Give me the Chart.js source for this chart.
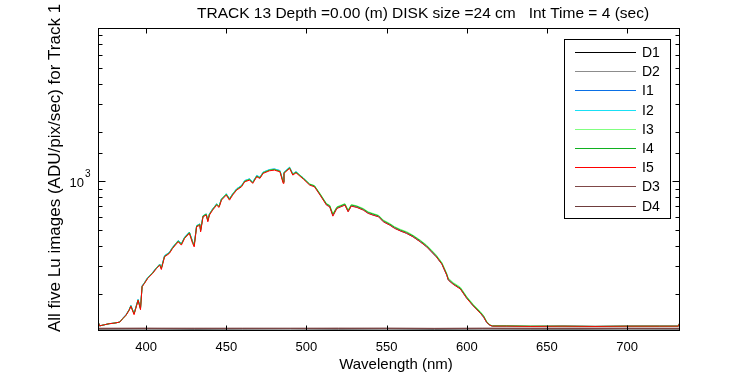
<!DOCTYPE html>
<html>
<head>
<meta charset="utf-8">
<script src="https://cdn.jsdelivr.net/npm/chart.js@4.4.1/dist/chart.umd.min.js"></script>
<style>
  html, body { margin: 0; padding: 0; background: #fff; }
  canvas { display: block; }
</style>
</head>
<body>
<canvas id="luChart" width="750" height="375"></canvas>
<script>
const FONT = "'Liberation Sans', Arial, sans-serif";

const chartTitle = "TRACK 13 Depth =0.00 (m) DISK size =24 cm   Int Time = 4 (sec)";
const xTitle = "Wavelength (nm)";
const yTitle = "All five Lu images (ADU/pix/sec) for Track 1";

// wavelength grid of the five Lu images, read point by point
const nmLu = [
  370, 371, 374, 377, 380, 383.5, 385.5, 387.5, 389.5, 390.5, 392.5, 395, 396.5, 397.5, 399,
  401, 404, 406.5, 408.5, 409.5, 411.5, 414.5, 416.5, 420, 422, 424, 427, 429, 430, 431.5,
  433.5, 434, 435.5, 437.5, 438.5, 439.5, 441.5, 444, 445.5, 447, 450, 452, 454, 456.5, 459.5,
  461.5, 464.5, 466.5, 469, 471, 473, 477, 480, 483.5, 485.5, 486, 489.5, 491.5, 493.5, 498,
  502, 505, 508.5, 512.5, 514.5, 516.5, 519, 524, 526, 528, 531.5, 535.5, 538.5, 541.5, 545,
  548, 552, 555, 558.5, 562.5, 566.5, 571, 575, 578, 581, 584.5, 587.5, 588.5, 591.5, 596,
  600, 604, 608.5, 610.5, 612.5, 614.5, 616, 625, 640, 660, 680, 700, 720, 732, 733
];
const lumI1 = [
  136, 128, 130, 132, 133, 135, 143, 150, 162, 171, 153, 186, 165, 226, 237,
  255, 273, 293, 308, 292, 347, 364, 391, 430, 412, 451, 485, 425, 405, 531,
  545, 500, 612, 628, 575, 628, 674, 724, 702, 777, 835, 778, 835, 896, 938,
  1006, 1031, 986, 1081, 1057, 1134, 1176, 1187, 1160, 995, 1134, 1216, 1108, 1142, 1046,
  955, 930, 826, 716, 699, 615, 682, 714, 652, 704, 691, 665, 635, 619, 604,
  563, 537, 513, 494, 477, 454, 423, 394, 367, 342, 308, 264, 246, 232, 217,
  190, 170.5, 153.5, 145, 134, 129, 127.5, 127.5, 127, 127.5, 127, 127.5, 127.5, 127.5, 135
];
const lumI2 = [
  136, 128, 130, 132, 133, 135, 143, 150, 161, 171, 152, 186, 164, 225, 237,
  254, 272, 292, 307, 291, 346, 363, 390, 429, 411, 450, 484, 424, 404, 530,
  544, 498, 611, 627, 573, 627, 673, 723, 701, 778, 836, 779, 837, 898, 940,
  1009, 1034, 990, 1084, 1060, 1138, 1180, 1190, 1163, 998, 1137, 1220, 1110, 1145, 1048,
  956, 931, 827, 717, 700, 616, 683, 715, 653, 705, 692, 666, 636, 620, 605,
  563, 537, 513, 494, 477, 454, 423, 394, 367, 342, 308, 264, 246, 232, 217,
  190, 170.5, 153.5, 145, 134, 129, 127.5, 127.5, 127, 127.5, 127, 127.5, 127.5, 127.5, 135
];
const lumI3 = [
  136, 128, 130, 132, 133, 135, 142, 149, 161, 170, 152, 185, 163, 224, 236,
  253, 271, 291, 305, 289, 344, 361, 388, 427, 409, 448, 482, 421, 402, 528,
  542, 496, 609, 625, 571, 625, 670, 720, 698, 773, 830, 775, 830, 890, 932,
  1000, 1025, 980, 1074, 1050, 1128, 1170, 1180, 1152, 985, 1128, 1210, 1102, 1138, 1045,
  962, 940, 838, 728, 711, 630, 695, 727, 664, 718, 704, 678, 647, 632, 616,
  575, 548, 524, 505, 488, 464, 433, 403, 376, 350, 315, 270, 252, 237, 222,
  194, 174, 157, 148, 136, 130, 128, 128, 127.5, 127.5, 127, 127.5, 127.5, 127.5, 135
];
const lumI4 = [
  136, 128, 130, 132, 133, 135, 142, 149, 161, 170, 152, 185, 163, 224, 235,
  252, 271, 291, 305, 289, 344, 361, 388, 427, 409, 448, 482, 420, 401, 528,
  541, 495, 609, 624, 570, 624, 669, 719, 697, 772, 829, 774, 829, 889, 931,
  999, 1024, 979, 1073, 1049, 1127, 1169, 1180, 1151, 984, 1127, 1209, 1100, 1136, 1042,
  957, 934, 832, 722, 705, 623, 689, 721, 658, 712, 699, 672, 642, 627, 611,
  570, 543, 519, 500, 483, 460, 429, 399, 372, 346, 311, 267, 249, 234, 219,
  192, 172, 155, 147, 135, 129.5, 128, 128, 127.5, 127.5, 127, 127.5, 127.5, 127.5, 135
];
const lumI5 = [
  136, 128, 130, 132, 133, 135, 142, 149, 160, 169, 150, 184, 161, 223, 234,
  251, 269, 289, 303, 285, 341, 358, 384, 422, 403, 443, 476, 413, 393, 522,
  535, 486, 602, 617, 561, 617, 662, 711, 688, 763, 820, 763, 820, 880, 922,
  990, 1014, 968, 1063, 1039, 1116, 1158, 1169, 1141, 968, 1116, 1198, 1089, 1125, 1030,
  945, 922, 820, 711, 694, 608, 678, 711, 646, 701, 688, 662, 632, 617, 602,
  561, 535, 511, 493, 476, 453, 422, 393, 366, 341, 307, 263, 245, 231, 216,
  189, 170, 153, 145, 134, 129, 127.5, 127.5, 127, 127.5, 127, 127.5, 127.5, 127.5, 135
];

// dark frames along the bottom
const nmDark = [370, 400, 430, 460, 490, 520, 550, 580, 610, 640, 670, 700, 733];
const lumD1 = [122.3, 122.6, 122.2, 122.5, 122.7, 122.3, 122.6, 122.2, 122.6, 122.4, 122.3, 122.6, 122.4];
const lumD2 = [122.9, 122.7, 123.1, 122.8, 123.0, 122.7, 122.9, 123.1, 122.8, 123.0, 122.9, 122.7, 122.9];
const lumD3 = [123.7, 124.0, 123.6, 123.9, 123.7, 124.0, 123.8, 123.6, 123.9, 123.7, 124.0, 123.8, 123.7];
const lumD4 = [123.4, 123.2, 123.6, 123.3, 123.5, 123.2, 123.6, 123.3, 123.4, 123.6, 123.3, 123.5, 123.4];

const seriesNames = ["D1", "D2", "I1", "I2", "I3", "I4", "I5", "D3", "D4"];
const seriesColors = ["#000000", "#8c8c8c", "#0a6fe6", "#19e0f5", "#80ff80", "#10b020", "#ff0000", "#7f4848", "#6e3c3c"];

const toPoints = (xs, ys) => xs.map((x, i) => ({ x: x, y: ys[i] }));

const seriesData = [
  toPoints(nmDark, lumD1),
  toPoints(nmDark, lumD2),
  toPoints(nmLu, lumI1),
  toPoints(nmLu, lumI2),
  toPoints(nmLu, lumI3),
  toPoints(nmLu, lumI4),
  toPoints(nmLu, lumI5),
  toPoints(nmDark, lumD3),
  toPoints(nmDark, lumD4),
];
// lower order = drawn on top
const drawOrder = [8, 7, 6, 5, 4, 3, 0, 1, 2];

const datasets = seriesNames.map((name, i) => ({
  label: name,
  data: seriesData[i],
  borderColor: seriesColors[i],
  backgroundColor: seriesColors[i],
  borderWidth: 1,
  pointRadius: 0,
  tension: 0,
  fill: false,
  order: drawOrder[i],
}));

// frame, inward ticks, texts and legend box
const decorPlugin = {
  id: "decor",
  afterDraw(chart) {
    const ctx = chart.ctx;
    const area = chart.chartArea;
    const xs = chart.scales.x;
    const ys = chart.scales.y;
    const L = area.left + 0.5, R = area.right - 0.5, T = area.top + 0.5, B = area.bottom - 0.5;

    ctx.save();
    ctx.strokeStyle = "#000";
    ctx.lineWidth = 1;
    ctx.strokeRect(L, T, R - L, B - T);

    ctx.beginPath();
    xs.ticks.forEach((t) => {
      const px = Math.round(xs.getPixelForValue(t.value)) + 0.5;
      ctx.moveTo(px, B); ctx.lineTo(px, B - 5);
      ctx.moveTo(px, T); ctx.lineTo(px, T + 5);
    });
    ys.ticks.forEach((t) => {
      if (t.value <= ys.min * 1.001 || t.value >= ys.max * 0.999) return;
      const py = Math.round(ys.getPixelForValue(t.value)) + 0.5;
      const len = t.value === 1000 ? 7 : 4;
      ctx.moveTo(L, py); ctx.lineTo(L + len, py);
      ctx.moveTo(R, py); ctx.lineTo(R - len, py);
    });
    ctx.stroke();

    // 10^3 label
    const p3 = ys.getPixelForValue(1000);
    ctx.fillStyle = "#000";
    ctx.font = "13px " + FONT;
    ctx.textAlign = "right";
    ctx.textBaseline = "alphabetic";
    ctx.fillText("10", 84, p3 + 6);
    ctx.font = "10px " + FONT;
    ctx.textAlign = "left";
    ctx.fillText("3", 85, p3 - 4);

    // title
    ctx.font = "15.5px " + FONT;
    ctx.textAlign = "left";
    ctx.fillText(chartTitle, 197, 18);

    // x title
    ctx.font = "15px " + FONT;
    ctx.textAlign = "center";
    ctx.fillText(xTitle, 396, 369);

    // y title
    ctx.save();
    ctx.translate(60, 332);
    ctx.rotate(-Math.PI / 2);
    ctx.font = "17px " + FONT;
    ctx.textAlign = "left";
    ctx.fillText(yTitle, 0, 0);
    ctx.restore();

    // legend
    const bx = 564.5, by = 39.5, bw = 106, bh = 179;
    ctx.fillStyle = "#fff";
    ctx.fillRect(bx, by, bw, bh);
    ctx.strokeStyle = "#000";
    ctx.strokeRect(bx, by, bw, bh);
    ctx.font = "14px " + FONT;
    ctx.textAlign = "left";
    ctx.textBaseline = "middle";
    seriesNames.forEach((name, i) => {
      const ly = Math.round(by + 12.5 + i * 19.2) + 0.5;
      ctx.strokeStyle = seriesColors[i];
      ctx.beginPath();
      ctx.moveTo(575, ly); ctx.lineTo(636, ly);
      ctx.stroke();
      ctx.fillStyle = "#000";
      ctx.fillText(name, 642, ly + 1);
    });
    ctx.restore();
  },
};

new Chart(document.getElementById("luChart").getContext("2d"), {
  type: "line",
  data: { datasets: datasets },
  options: {
    responsive: false,
    animation: false,
    devicePixelRatio: 1,
    layout: { padding: { top: 28, right: 70, left: 0, bottom: 0 } },
    plugins: {
      legend: { display: false },
      tooltip: { enabled: false },
    },
    scales: {
      x: {
        type: "linear",
        min: 370,
        max: 733,
        grid: { display: false, drawTicks: false },
        border: { display: false },
        ticks: {
          stepSize: 50,
          includeBounds: false,
          color: "#000",
          padding: 9,
          maxRotation: 0,
          font: { family: FONT, size: 13 },
        },
        afterFit: (scale) => { scale.height = 44; },
      },
      y: {
        type: "logarithmic",
        min: 119,
        max: 8800,
        grid: { display: false, drawTicks: false },
        border: { display: false },
        ticks: { display: false, autoSkip: false },
        afterFit: (scale) => { scale.width = 98; },
      },
    },
  },
  plugins: [decorPlugin],
});
</script>
</body>
</html>
